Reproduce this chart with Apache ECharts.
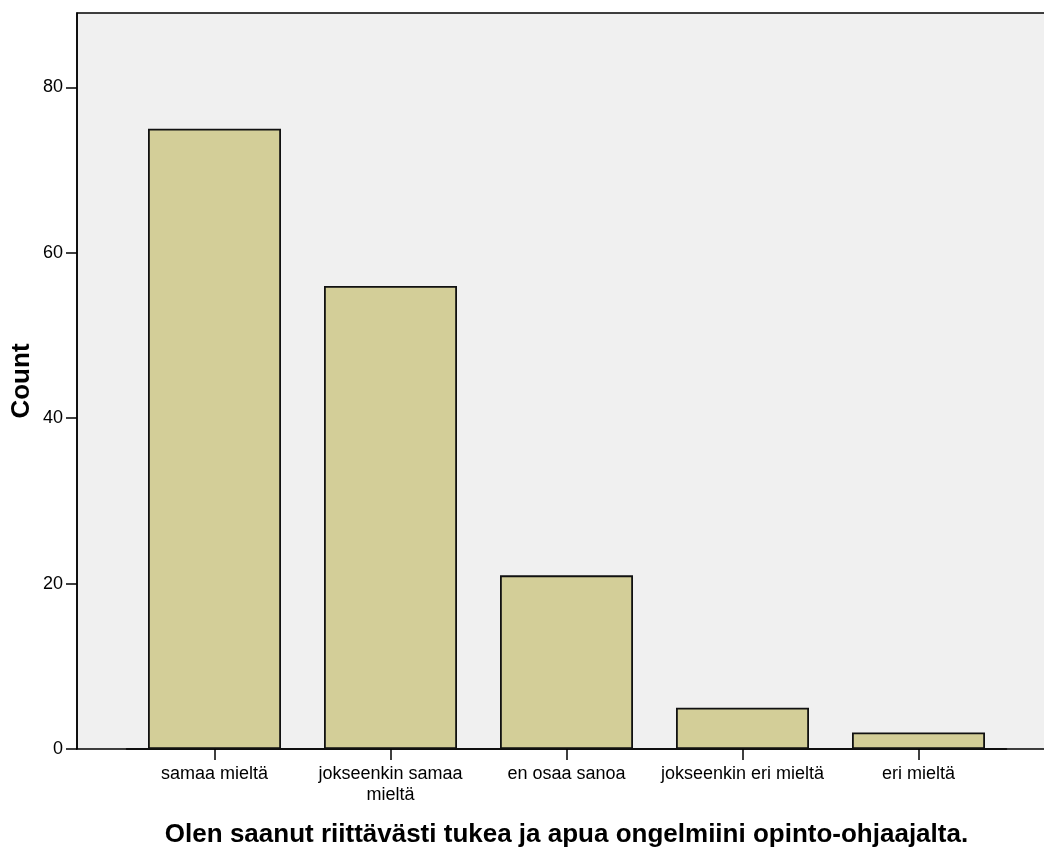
<!DOCTYPE html>
<html><head><meta charset="utf-8">
<script src="https://cdn.jsdelivr.net/npm/echarts@6/dist/echarts.min.js"></script>
<style>html,body{margin:0;padding:0;background:#fff}#c{width:1044px;height:848px}</style>
</head><body><div id="c"></div>
<script>
const categories = ["samaa mieltä", "jokseenkin samaa\nmieltä", "en osaa sanoa", "jokseenkin eri mieltä", "eri mieltä"];
const counts = [75, 56, 21, 5, 2];
const yTicks = [0, 20, 40, 60, 80];
const xTitle = "Olen saanut riittävästi tukea ja apua ongelmiini opinto-ohjaajalta.";
const yTitle = "Count";

const font = "'Liberation Sans', Arial, sans-serif";
const chart = echarts.init(document.getElementById('c'));
chart.setOption({
  animation: false,
  textStyle: { fontFamily: font },
  grid: [
    { left: 77, width: 1000, top: 13, bottom: 99, show: true, backgroundColor: '#f0f0f0', borderColor: '#000', borderWidth: 1.5, z: 0, outerBoundsMode: 'none', containLabel: false },
    { left: 126.5, right: 37.5, top: 13, bottom: 99, outerBoundsMode: 'none', containLabel: false }
  ],
  xAxis: [
    { gridIndex: 0, type: 'value', show: false, min: 0, max: 1 },
    {
      gridIndex: 1, type: 'category', data: categories,
      axisLine: { show: true, lineStyle: { color: '#000', width: 1.5 } },
      axisTick: { show: true, alignWithLabel: true, length: 11, lineStyle: { color: '#000', width: 1.5 } },
      axisLabel: { color: '#000', fontSize: 18, fontFamily: font, margin: 15, lineHeight: 21, interval: 0 },
      name: xTitle, nameLocation: 'middle', nameGap: 73, nameMoveOverlap: false,
      nameTextStyle: { color: '#000', fontSize: 26, fontWeight: 'bold', fontFamily: font }
    }
  ],
  yAxis: [
    { gridIndex: 0, type: 'value', show: false, min: 0, max: 1 },
    {
      gridIndex: 1, type: 'value', min: 0, max: 89, offset: 49.5,
      splitLine: { show: false },
      axisLine: { show: true, lineStyle: { color: '#000', width: 1.5 } },
      axisTick: { show: true, length: 11, customValues: yTicks, lineStyle: { color: '#000', width: 1.5 } },
      axisLabel: { color: '#000', fontSize: 18, fontFamily: font, margin: 14, customValues: yTicks },
      name: yTitle, nameLocation: 'middle', nameGap: 42, nameRotate: 90, nameMoveOverlap: false,
      nameTextStyle: { color: '#000', fontSize: 26, fontWeight: 'bold', fontFamily: font }
    }
  ],
  series: [{
    type: 'bar', xAxisIndex: 1, yAxisIndex: 1, data: counts, barWidth: 133,
    itemStyle: { color: '#d3ce98', borderColor: '#111', borderWidth: 1.8 }
  }]
});
</script></body></html>
